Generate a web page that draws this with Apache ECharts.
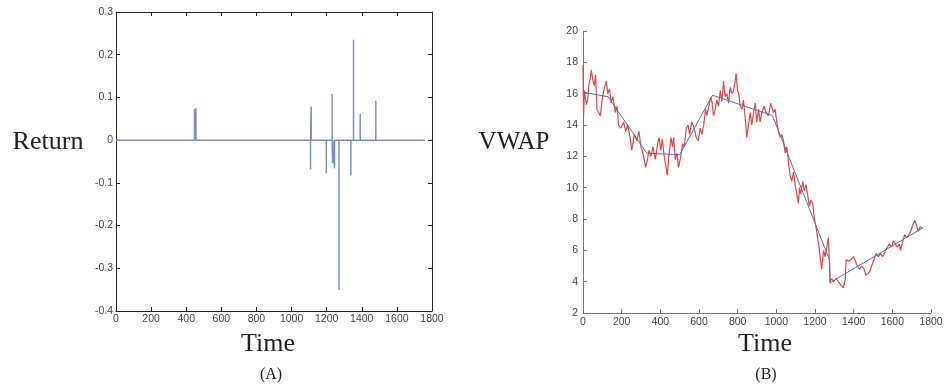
<!DOCTYPE html>
<html>
<head>
<meta charset="utf-8">
<script src="https://cdn.jsdelivr.net/npm/echarts@6/dist/echarts.min.js"></script>
<style>html,body{margin:0;padding:0;background:#fff}#c{width:948px;height:390px}</style>
</head>
<body>
<div id="c"></div>
<script>
// ---- Panel A: Return spikes ----
const returnTimes  = [447, 455, 1108, 1112, 1198, 1231, 1234, 1245, 1270, 1338, 1353, 1391, 1480];
const returnValues = [0.073, 0.075, -0.068, 0.079, -0.078, 0.108, -0.054, -0.066, -0.351, -0.082, 0.235, 0.061, 0.092];
const returnEnd = 1760;

// ---- Panel B: VWAP ----
const vwapTimes = [0,3,7,17,24,31,38,43,52,59,65,72,81,90,98,107,121,128,138,145,155,167,176,184,196,210,221,231,241,252,258,265,279,289,300,310,324,334,341,351,362,374,386,393,403,410,420,431,436,444,455,463,469,477,486,494,506,515,524,534,544,551,563,575,586,596,606,615,624,634,641,651,661,668,675,684,692,701,710,718,727,735,744,753,761,770,779,787,792,799,806,813,822,830,841,847,856,865,873,882,891,899,908,916,925,937,947,959,971,978,985,994,1002,1011,1020,1028,1037,1046,1054,1063,1071,1080,1089,1097,1106,1114,1120,1126,1137,1144,1154,1161,1171,1178,1188,1195,1206,1216,1223,1230,1235,1244,1252,1261,1269,1275,1278,1287,1295,1309,1321,1333,1347,1357,1361,1373,1385,1399,1409,1419,1430,1442,1454,1464,1471,1481,1493,1505,1516,1528,1540,1550,1562,1574,1585,1597,1605,1616,1626,1636,1643,1654,1664,1674,1685,1695,1705,1716,1726,1734,1743,1755];
const vwapValues = [17.8,14.6,16.2,15.3,15.6,16.6,17.0,17.5,16.8,16.5,17.2,15.0,14.8,14.6,15.5,16.2,16.8,16.0,16.3,15.4,15.8,14.8,15.2,14.0,13.8,14.2,13.6,14.0,13.4,12.4,12.8,13.4,13.0,13.6,12.6,12.2,11.3,11.8,12.4,12.0,12.6,11.8,12.8,13.2,12.4,13.1,12.0,11.2,10.8,12.0,13.2,12.6,13.2,11.8,12.2,11.3,12.0,12.8,12.6,13.8,14.0,13.4,14.2,13.8,13.2,13.0,13.8,13.4,14.0,15.0,14.6,15.2,15.8,15.4,14.6,15.0,15.6,15.2,16.2,15.5,16.8,15.8,16.0,15.4,16.4,16.0,16.2,16.8,17.3,16.2,16.0,15.2,15.0,15.6,14.2,13.2,14.0,14.8,14.0,14.8,15.4,14.2,15.0,14.2,14.8,15.2,14.8,14.6,15.4,15.3,14.8,15.0,14.2,13.6,13.2,13.4,13.0,12.2,12.6,11.6,10.8,10.4,11.0,10.2,9.6,9.0,10.0,9.6,10.4,9.8,10.2,9.6,8.8,9.2,9.0,8.2,7.4,6.6,6.0,5.2,4.8,6.0,5.6,6.2,6.8,5.2,4.0,4.2,4.0,4.2,4.0,3.8,3.6,4.2,5.4,5.3,5.4,5.6,5.3,5.0,4.8,5.0,4.8,4.4,4.3,4.6,5.0,5.4,5.8,5.6,5.8,5.6,5.9,6.2,6.4,6.2,6.6,6.4,6.2,6.4,6.0,6.6,7.0,6.8,7.0,7.2,7.6,7.9,7.6,7.2,7.5,7.4];

const trendTimes  = [0, 130, 330, 500, 670, 980, 1275, 1278, 1300, 1760];
const trendValues = [16.1, 15.8, 12.2, 12.1, 15.9, 14.6, 5.4, 3.9, 4.1, 7.45];

// axis ticks
const xMin = 0, xMax = 1800, xStep = 200;
const retMin = -0.4, retMax = 0.3, retStep = 0.1;
const vMin = 2, vMax = 20, vStep = 2;

// build line data
const retData = [[0, 0]];
returnTimes.forEach((t, i) => { retData.push([t, 0], [t, returnValues[i]], [t, 0]); });
retData.push([returnEnd, 0]);
const vwapData = vwapTimes.map((t, i) => [t, vwapValues[i]]);
const trendData = trendTimes.map((t, i) => [t, trendValues[i]]);

const lbl = {color: '#444', fontSize: 10.5, fontFamily: 'Liberation Sans, Arial, sans-serif'};
const plain = v => String(Math.round(v));
function axisBase(color){
  return {
    axisLine: {show: true, onZero: false, lineStyle: {color: color, width: 1}},
    axisTick: {show: true, inside: true, length: 4, lineStyle: {color: color}},
    splitLine: {show: false}
  };
}

const chart = echarts.init(document.getElementById('c'));
chart.setOption({
  animation: false,
  backgroundColor: '#fff',
  grid: [
    {left: 116, top: 12, width: 316, height: 299},
    {left: 583, top: 31, width: 348, height: 282}
  ],
  xAxis: [
    Object.assign({type: 'value', gridIndex: 0, min: xMin, max: xMax, interval: xStep, position: 'bottom',
      axisLabel: Object.assign({margin: 3, formatter: plain}, lbl)}, axisBase('#222')),
    Object.assign({type: 'value', gridIndex: 0, min: xMin, max: xMax, interval: xStep, position: 'top',
      axisLabel: {show: false}}, axisBase('#222')),
    Object.assign({type: 'value', gridIndex: 1, min: xMin, max: xMax, interval: xStep, position: 'bottom',
      axisLabel: Object.assign({margin: 4, formatter: plain}, lbl)}, axisBase('#777'))
  ],
  yAxis: [
    Object.assign({type: 'value', gridIndex: 0, min: retMin, max: retMax, interval: retStep, position: 'left',
      axisLabel: Object.assign({margin: 3, formatter: v => (Math.abs(v) < 1e-9 ? '0' : (+v.toFixed(1)).toString())}, lbl)}, axisBase('#222')),
    Object.assign({type: 'value', gridIndex: 0, min: retMin, max: retMax, interval: retStep, position: 'right',
      axisLabel: {show: false}}, axisBase('#222')),
    Object.assign({type: 'value', gridIndex: 1, min: vMin, max: vMax, interval: vStep, position: 'left',
      axisLabel: Object.assign({margin: 5, formatter: plain}, lbl)}, axisBase('#777'))
  ],
  series: [
    {type: 'line', xAxisIndex: 0, yAxisIndex: 0, data: retData, showSymbol: false, symbol: 'none',
      lineStyle: {color: '#7f8ec2', width: 1.5}},
    {type: 'line', xAxisIndex: 2, yAxisIndex: 2, data: vwapData, showSymbol: false, symbol: 'none',
      lineStyle: {color: '#e04848', width: 1.2}},
    {type: 'line', xAxisIndex: 2, yAxisIndex: 2, data: trendData, showSymbol: false, symbol: 'none',
      lineStyle: {color: '#5a72a8', width: 1}}
  ],
  graphic: [
    {type: 'text', style: {text: 'Return', x: 48, y: 142, textAlign: 'center', textVerticalAlign: 'middle', font: '26px "Liberation Serif", "Times New Roman", serif', fill: '#222'}},
    {type: 'text', style: {text: 'Time', x: 268, y: 344, textAlign: 'center', textVerticalAlign: 'middle', font: '26px "Liberation Serif", "Times New Roman", serif', fill: '#222'}},
    {type: 'text', style: {text: '(A)', x: 271, y: 375, textAlign: 'center', textVerticalAlign: 'middle', font: '16px "Liberation Serif", "Times New Roman", serif', fill: '#222'}},
    {type: 'text', style: {text: 'VWAP', x: 514, y: 142, textAlign: 'center', textVerticalAlign: 'middle', font: '25px "Liberation Serif", "Times New Roman", serif', fill: '#222'}},
    {type: 'text', style: {text: 'Time', x: 765, y: 344, textAlign: 'center', textVerticalAlign: 'middle', font: '26px "Liberation Serif", "Times New Roman", serif', fill: '#222'}},
    {type: 'text', style: {text: '(B)', x: 766, y: 375, textAlign: 'center', textVerticalAlign: 'middle', font: '16px "Liberation Serif", "Times New Roman", serif', fill: '#222'}}
  ]
});
</script>
</body>
</html>
